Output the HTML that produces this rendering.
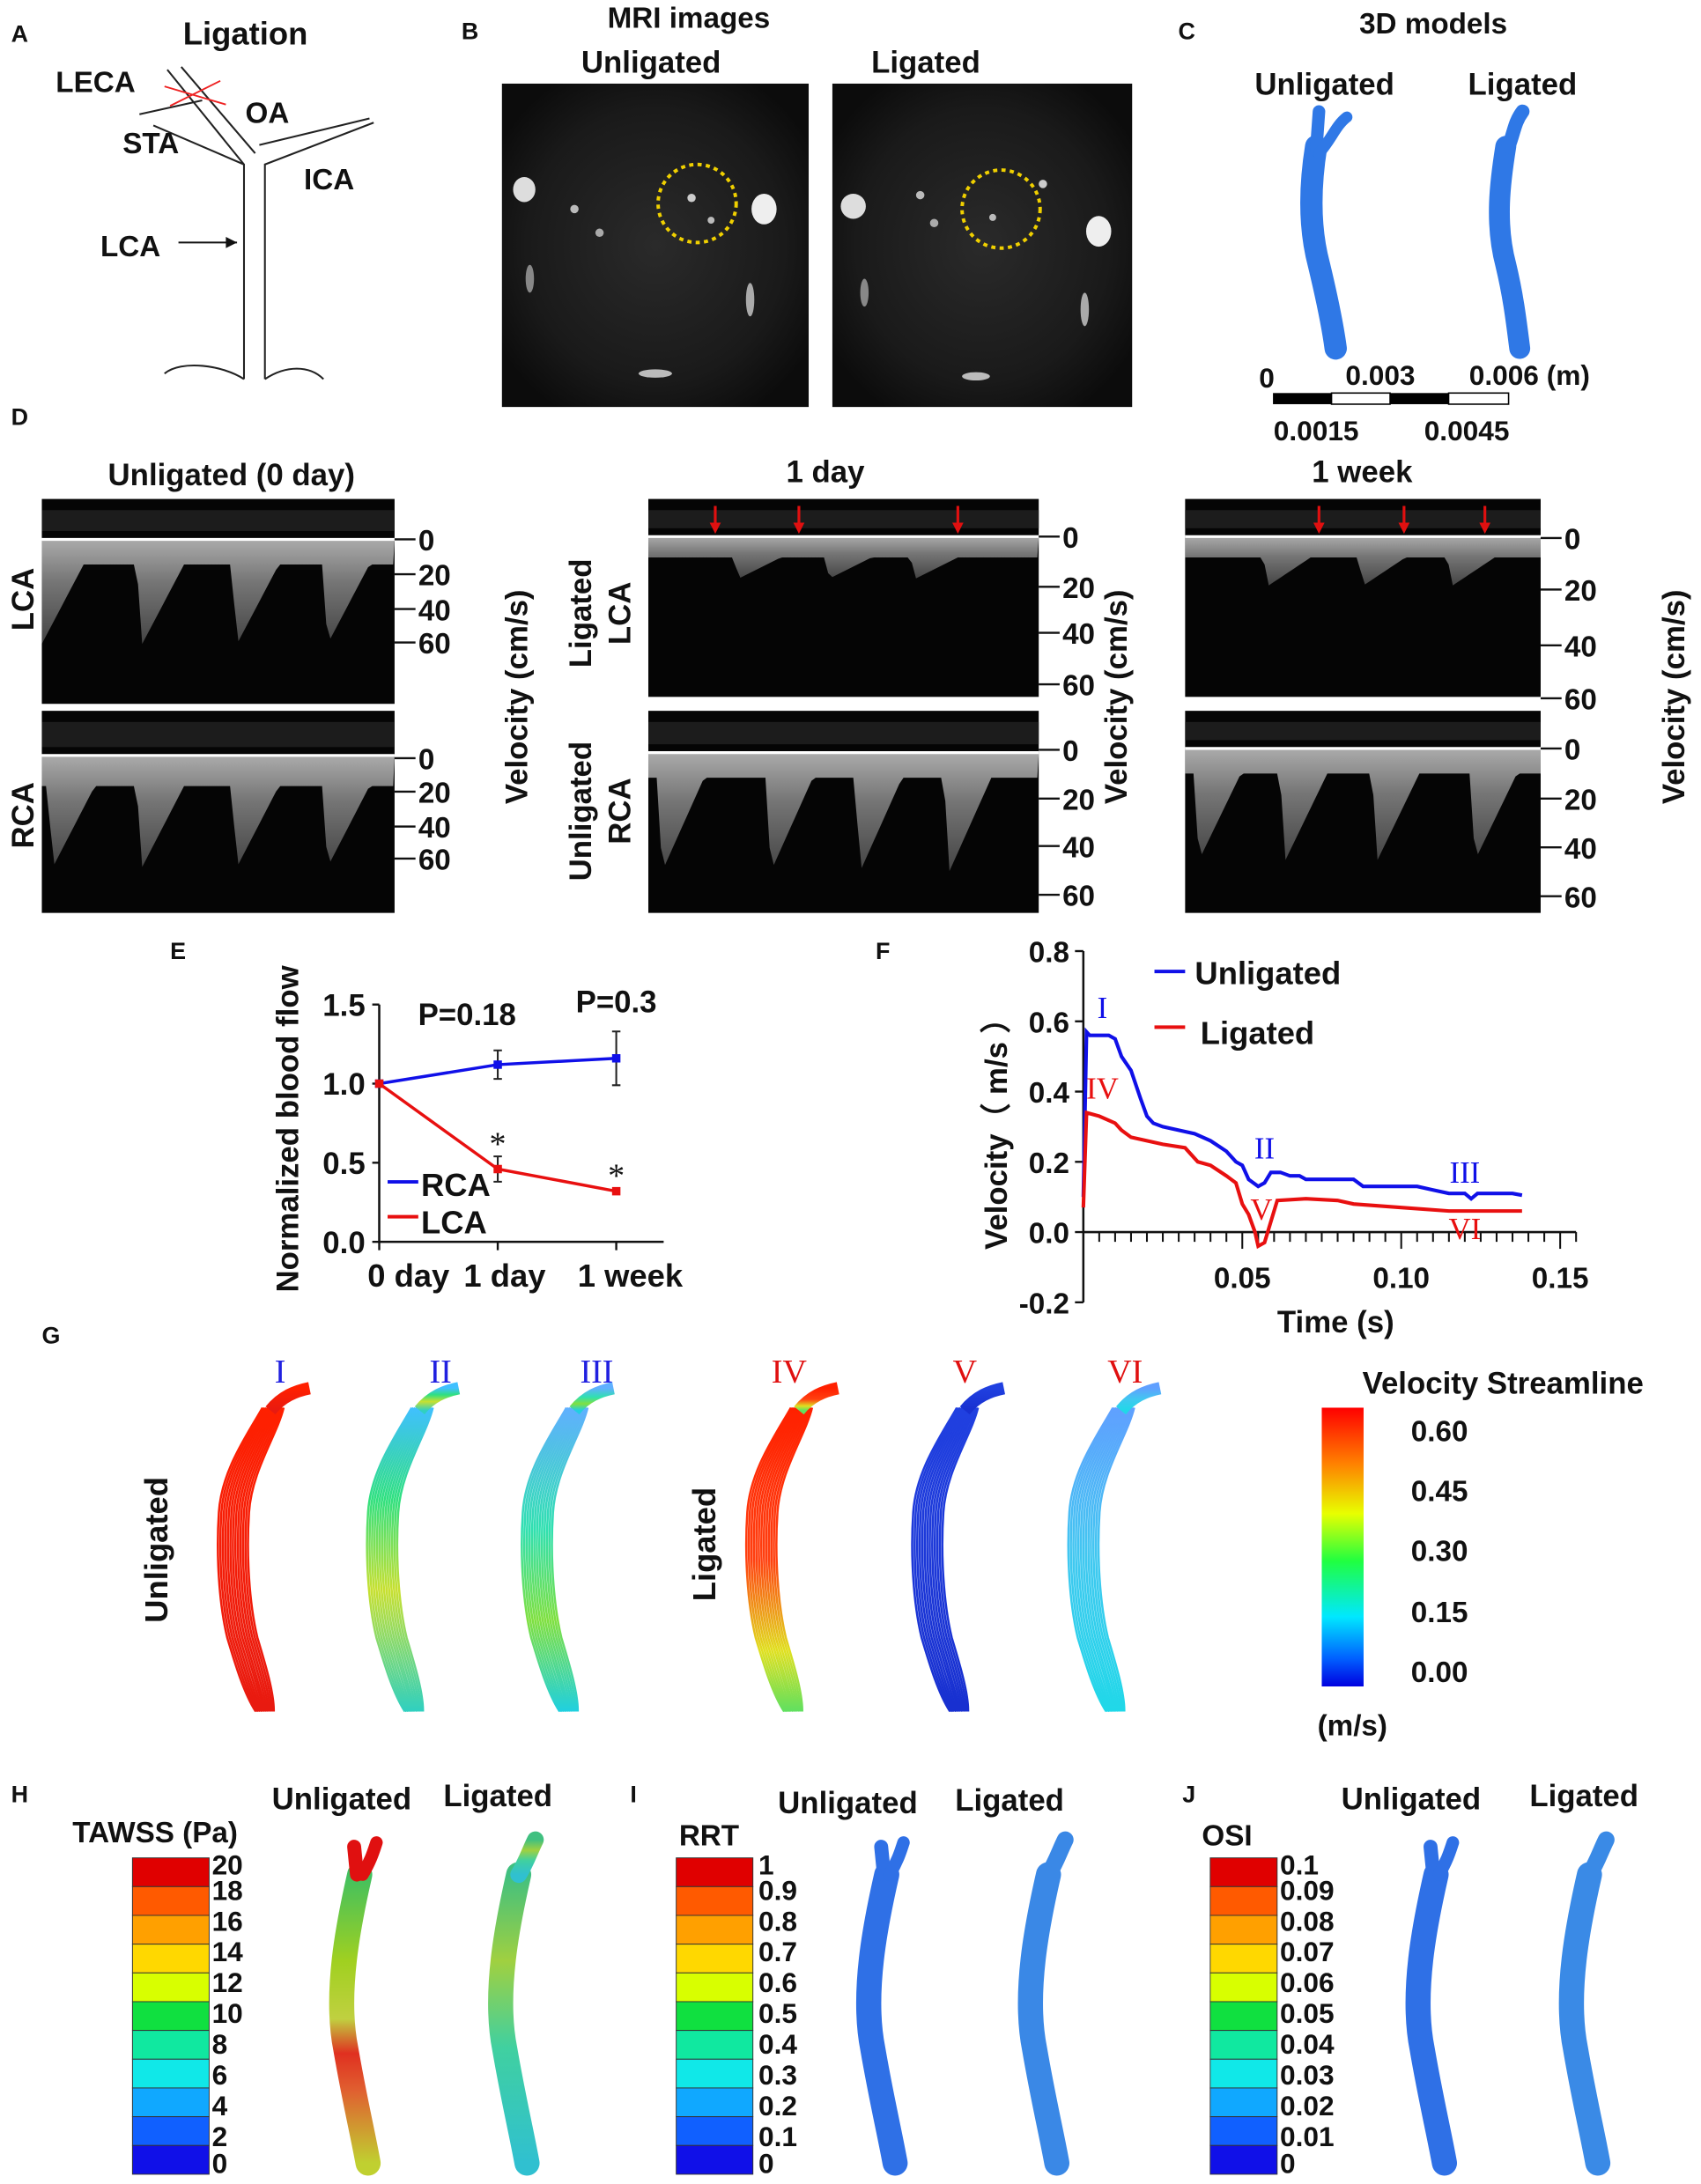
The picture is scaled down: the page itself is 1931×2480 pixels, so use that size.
<!DOCTYPE html>
<html><head><meta charset="utf-8"><title>Figure</title>
<style>
html,body{margin:0;padding:0;background:#fff;}
svg{display:block;}
text{font-family:"Liberation Sans",Arial,sans-serif;font-weight:bold;fill:#111;}
.rn{font-family:"Liberation Serif",serif;font-weight:normal;}
</style></head>
<body>
<svg id="fig" width="1931" height="2480" viewBox="0 0 1220 1567" preserveAspectRatio="none" xmlns="http://www.w3.org/2000/svg">
<defs>
<radialGradient id="mriG" cx="50%" cy="50%" r="60%"><stop offset="0" stop-color="#2a2a2a"/><stop offset="0.7" stop-color="#1a1a1a"/><stop offset="1" stop-color="#0c0c0c"/></radialGradient>
<linearGradient id="gI" x1="0" y1="0" x2="0" y2="1"><stop offset="0" stop-color="#ff2000"/><stop offset="1" stop-color="#e81a10"/></linearGradient>
<linearGradient id="gII" x1="0" y1="0" x2="0" y2="1"><stop offset="0" stop-color="#40c0ff"/><stop offset="0.3" stop-color="#30e080"/><stop offset="0.6" stop-color="#c8e030"/><stop offset="1" stop-color="#30d0c0"/></linearGradient>
<linearGradient id="gIII" x1="0" y1="0" x2="0" y2="1"><stop offset="0" stop-color="#60b0ff"/><stop offset="0.4" stop-color="#30e0b0"/><stop offset="0.7" stop-color="#80e040"/><stop offset="1" stop-color="#20d0e0"/></linearGradient>
<linearGradient id="gIV" x1="0" y1="0" x2="0" y2="1"><stop offset="0" stop-color="#ff2000"/><stop offset="0.5" stop-color="#ff4010"/><stop offset="0.8" stop-color="#e0e020"/><stop offset="1" stop-color="#60e060"/></linearGradient>
<linearGradient id="gV" x1="0" y1="0" x2="0" y2="1"><stop offset="0" stop-color="#2040e0"/><stop offset="1" stop-color="#1830d0"/></linearGradient>
<linearGradient id="gVI" x1="0" y1="0" x2="0" y2="1"><stop offset="0" stop-color="#60a0ff"/><stop offset="0.5" stop-color="#40c8f0"/><stop offset="1" stop-color="#20d8e8"/></linearGradient>
<linearGradient id="jet" x1="0" y1="0" x2="0" y2="1"><stop offset="0" stop-color="#ff0000"/><stop offset="0.2" stop-color="#ff8000"/><stop offset="0.38" stop-color="#e8ff00"/><stop offset="0.55" stop-color="#20ff40"/><stop offset="0.75" stop-color="#00e8ff"/><stop offset="0.9" stop-color="#0060ff"/><stop offset="1" stop-color="#0000e0"/></linearGradient>
<linearGradient id="tawU" x1="0" y1="0" x2="0" y2="1"><stop offset="0" stop-color="#40c060"/><stop offset="0.3" stop-color="#a0d020"/><stop offset="0.5" stop-color="#c0d040"/><stop offset="0.62" stop-color="#e03020"/><stop offset="0.75" stop-color="#e06030"/><stop offset="1" stop-color="#c0d030"/></linearGradient>
<linearGradient id="tawL" x1="0" y1="0" x2="0" y2="1"><stop offset="0" stop-color="#40c080"/><stop offset="0.3" stop-color="#a0d040"/><stop offset="0.6" stop-color="#40d0a0"/><stop offset="1" stop-color="#30c0d0"/></linearGradient>
<linearGradient id="envG" x1="0" y1="0" x2="0" y2="1"><stop offset="0" stop-color="#c8c8c8"/><stop offset="0.4" stop-color="#8a8a8a"/><stop offset="1" stop-color="#505050"/></linearGradient>
</defs>

<!-- Panel A -->
<g>
<text x="8" y="30" font-size="17">A</text>
<text x="176" y="32" font-size="23" text-anchor="middle">Ligation</text>
<g fill="none" stroke="#222" stroke-width="1.3">
<path d="M175,272 L175,118 L120,50"/><path d="M190,272 L190,118 L268,88"/><path d="M175,118 L110,90"/><path d="M130,48 L183,110"/>
<path d="M186,104 L265,85"/><path d="M175,272 C160,262 130,258 118,268"/><path d="M190,272 C205,262 222,262 232,272"/>
<path d="M145,72 L100,82"/>
</g>
<path d="M118,62 L162,75 M122,76 L158,58" stroke="#e22" stroke-width="1.2"/>
<text x="40" y="66" font-size="21">LECA</text>
<text x="88" y="110" font-size="21">STA</text>
<text x="176" y="88" font-size="21">OA</text>
<text x="218" y="136" font-size="21">ICA</text>
<text x="72" y="184" font-size="21">LCA</text>
<path d="M128,174 L170,174" stroke="#111" stroke-width="1.3"/><path d="M170,174 l-8,-4 l0,8 z" fill="#111"/>
</g>

<!-- Panel B -->
<g>
<text x="331" y="28" font-size="17">B</text>
<text x="494" y="20" font-size="21" text-anchor="middle">MRI images</text>
<text x="467" y="52" font-size="22" text-anchor="middle">Unligated</text>
<text x="664" y="52" font-size="22" text-anchor="middle">Ligated</text>
<g>
<rect x="360" y="60" width="220" height="232" fill="url(#mriG)"/>
<ellipse cx="376" cy="136" rx="8" ry="9" fill="#ddd"/><ellipse cx="548" cy="150" rx="9" ry="11" fill="#eee"/>
<circle cx="412" cy="150" r="3" fill="#bbb"/><circle cx="430" cy="167" r="3" fill="#aaa"/><circle cx="496" cy="142" r="3" fill="#ccc"/><circle cx="510" cy="158" r="2.5" fill="#bbb"/>
<ellipse cx="380" cy="200" rx="3" ry="10" fill="#888"/><ellipse cx="538" cy="215" rx="3" ry="12" fill="#aaa"/><ellipse cx="470" cy="268" rx="12" ry="3" fill="#bbb"/>
<circle cx="500" cy="146" r="28" fill="none" stroke="#f0d000" stroke-width="2.5" stroke-dasharray="3,3"/>
</g>
<g>
<rect x="597" y="60" width="215" height="232" fill="url(#mriG)"/>
<ellipse cx="612" cy="148" rx="9" ry="9" fill="#ddd"/><ellipse cx="788" cy="166" rx="9" ry="11" fill="#eee"/>
<circle cx="660" cy="140" r="3" fill="#bbb"/><circle cx="670" cy="160" r="3" fill="#aaa"/><circle cx="712" cy="156" r="2.5" fill="#bbb"/><circle cx="748" cy="132" r="3" fill="#ccc"/>
<ellipse cx="620" cy="210" rx="3" ry="10" fill="#888"/><ellipse cx="778" cy="222" rx="3" ry="12" fill="#aaa"/><ellipse cx="700" cy="270" rx="10" ry="3" fill="#bbb"/>
<circle cx="718" cy="150" r="28" fill="none" stroke="#f0d000" stroke-width="2.5" stroke-dasharray="3,3"/>
</g>
</g>

<!-- Panel C -->
<g>
<text x="845" y="28" font-size="17">C</text>
<text x="1028" y="24" font-size="21" text-anchor="middle">3D models</text>
<text x="950" y="68" font-size="22" text-anchor="middle">Unligated</text>
<text x="1092" y="68" font-size="22" text-anchor="middle">Ligated</text>
<g fill="none" stroke="#2f78e6" stroke-linecap="round">
<path d="M944,105 C940,130 938,160 946,190 C952,215 956,235 958,250" stroke-width="16"/>
<path d="M944,108 L946,80" stroke-width="9"/><path d="M946,110 C955,100 958,90 966,84" stroke-width="8"/>
</g>
<g fill="none" stroke="#2f78e6" stroke-linecap="round">
<path d="M1080,105 C1076,130 1072,160 1080,190 C1086,215 1088,235 1090,250" stroke-width="15"/>
<path d="M1082,105 C1086,95 1086,88 1092,80" stroke-width="10"/>
</g>
<g>
<rect x="913" y="282" width="42" height="8" fill="#000"/><rect x="955" y="282" width="42" height="8" fill="#fff" stroke="#000"/>
<rect x="997" y="282" width="42" height="8" fill="#000"/><rect x="1039" y="282" width="43" height="8" fill="#fff" stroke="#000"/>
<text x="903" y="278" font-size="20">0</text><text x="990" y="276" font-size="20" text-anchor="middle">0.003</text>
<text x="1097" y="276" font-size="20" text-anchor="middle">0.006 (m)</text>
<text x="944" y="316" font-size="20" text-anchor="middle">0.0015</text><text x="1052" y="316" font-size="20" text-anchor="middle">0.0045</text>
</g>
</g>

<!-- Panel D -->
<g id="panelD">
<text x="8" y="305" font-size="17">D</text>
<text x="166" y="348" font-size="22" text-anchor="middle">Unligated (0 day)</text>
<text x="592" y="346" font-size="22" text-anchor="middle">1 day</text>
<text x="977" y="346" font-size="22" text-anchor="middle">1 week</text>
<text transform="translate(24,430) rotate(-90)" font-size="22" text-anchor="middle">LCA</text>
<text transform="translate(24,585) rotate(-90)" font-size="22" text-anchor="middle">RCA</text>
<text transform="translate(424,440) rotate(-90)" font-size="22" text-anchor="middle">Ligated</text>
<text transform="translate(452,440) rotate(-90)" font-size="22" text-anchor="middle">LCA</text>
<text transform="translate(424,582) rotate(-90)" font-size="22" text-anchor="middle">Unligated</text>
<text transform="translate(452,582) rotate(-90)" font-size="22" text-anchor="middle">RCA</text>
<text transform="translate(378,500) rotate(-90)" font-size="22" text-anchor="middle">Velocity (cm/s)</text>
<text transform="translate(808,500) rotate(-90)" font-size="22" text-anchor="middle">Velocity (cm/s)</text>
<text transform="translate(1208,500) rotate(-90)" font-size="22" text-anchor="middle">Velocity (cm/s)</text>
</g>

<!-- Panel E -->
<g id="panelE">
<text x="122" y="688" font-size="17">E</text>
<text transform="translate(214,810) rotate(-90)" font-size="22" text-anchor="middle">Normalized blood flow</text>
</g>

<!-- Panel F -->
<g id="panelF">
<text x="628" y="688" font-size="17">F</text>
<text transform="translate(722,808) rotate(-90)" font-size="22" text-anchor="middle">Velocity（ m/s ）</text>
<text x="958" y="956" font-size="22" text-anchor="middle">Time (s)</text>
</g>

<!-- Panel G -->
<g id="panelG">
<text x="30" y="964" font-size="17">G</text>
<text transform="translate(120,1112) rotate(-90)" font-size="23" text-anchor="middle">Unligated</text>
<text transform="translate(513,1108) rotate(-90)" font-size="23" text-anchor="middle">Ligated</text>
<text x="1078" y="1000" font-size="22" text-anchor="middle">Velocity  Streamline</text>
<rect x="948" y="1010" width="30" height="200" fill="url(#jet)"/>
<text x="1012" y="1034" font-size="21">0.60</text>
<text x="1012" y="1077" font-size="21">0.45</text>
<text x="1012" y="1120" font-size="21">0.30</text>
<text x="1012" y="1164" font-size="21">0.15</text>
<text x="1012" y="1207" font-size="21">0.00</text>
<text x="970" y="1245" font-size="21" text-anchor="middle">(m/s)</text>
</g>

<!-- Panels H I J -->
<g id="panelH">
<text x="8" y="1293" font-size="17">H</text>
<text x="52" y="1322" font-size="21">TAWSS (Pa)</text>
<text x="195" y="1298" font-size="22">Unligated</text>
<text x="318" y="1296" font-size="22">Ligated</text>
</g>
<g id="panelI">
<text x="452" y="1293" font-size="17">I</text>
<text x="487" y="1324" font-size="21">RRT</text>
<text x="558" y="1301" font-size="22">Unligated</text>
<text x="685" y="1299" font-size="22">Ligated</text>
</g>
<g id="panelJ">
<text x="848" y="1293" font-size="17">J</text>
<text x="862" y="1324" font-size="21">OSI</text>
<text x="962" y="1298" font-size="22">Unligated</text>
<text x="1097" y="1296" font-size="22">Ligated</text>
</g>
</svg>

<script>
// ---- Panel E data ----
const eCategories = ["0 day", "1 day", "1 week"];
const eRCA = [1.0, 1.12, 1.16];
const eRCAErr = [0, 0.09, 0.17];
const eLCA = [1.0, 0.46, 0.32];
const eLCAErr = [0, 0.08, 0];
const eYTicks = [0.0, 0.5, 1.0, 1.5];
const ePLabels = ["", "P=0.18", "P=0.3"];

// ---- Panel F data ----
const fTimeU = [0.0,0.001,0.002,0.008,0.010,0.012,0.015,0.018,0.020,0.022,0.025,0.030,0.035,0.040,0.045,0.048,0.050,0.052,0.055,0.057,0.059,0.062,0.065,0.068,0.070,0.075,0.085,0.088,0.100,0.105,0.110,0.115,0.120,0.122,0.124,0.135,0.138];
const fUnligated = [0.10,0.57,0.56,0.56,0.55,0.50,0.46,0.38,0.33,0.31,0.30,0.29,0.28,0.26,0.23,0.20,0.19,0.15,0.13,0.14,0.17,0.17,0.16,0.16,0.15,0.15,0.15,0.13,0.13,0.13,0.12,0.11,0.11,0.095,0.11,0.11,0.105];
const fTimeL = [0.0,0.001,0.005,0.010,0.012,0.015,0.020,0.025,0.032,0.034,0.036,0.040,0.045,0.048,0.049,0.050,0.052,0.054,0.055,0.057,0.059,0.061,0.070,0.080,0.085,0.100,0.115,0.138];
const fLigated = [0.07,0.34,0.33,0.31,0.29,0.27,0.26,0.25,0.24,0.22,0.20,0.19,0.16,0.14,0.11,0.08,0.05,0.00,-0.04,-0.03,0.03,0.09,0.095,0.09,0.08,0.07,0.06,0.06];
const fYTicks = [-0.2, 0.0, 0.2, 0.4, 0.6, 0.8];
const fXTicks = [0.05, 0.10, 0.15];

const NS = "http://www.w3.org/2000/svg";
function mk(parent, tag, attrs, txt) {
  const el = document.createElementNS(NS, tag);
  for (const k in attrs) el.setAttribute(k, attrs[k]);
  if (txt !== undefined) el.textContent = txt;
  parent.appendChild(el);
  return el;
}

// ===== Panel E =====
(function(){
  const g = document.getElementById('panelE');
  const x0 = 272, xStep = 85, yBase = 891, yPer = 113.5;
  const xE = i => x0 + i * xStep;
  const yE = v => yBase - v * yPer;
  const labelShift = [21, 5, 10];
  let ax = mk(g, 'path', {d:`M${x0},${yE(1.5)} L${x0},${yBase} L${x0+170+34},${yBase}`, fill:'none', stroke:'#111', 'stroke-width':1.6});
  
  
  eYTicks.forEach(v => {
    mk(g, 'line', {x1:x0-5, x2:x0, y1:yE(v), y2:yE(v), stroke:'#111', 'stroke-width':1.5});
    let t = mk(g, 'text', {x:x0-10, y:yE(v)+8, 'font-size':22, 'text-anchor':'end'}, v.toFixed(1));
    
    
  });
  eCategories.forEach((c, i) => {
    mk(g, 'line', {x1:xE(i), x2:xE(i), y1:yBase, y2:yBase+6, stroke:'#111', 'stroke-width':1.5});
    let t = mk(g, 'text', {x:xE(i)+labelShift[i], y:yBase+32, 'font-size':23, 'text-anchor':'middle'}, c);
    
    
  });
  function series(vals, errs, color, name) {
    let l = mk(g, 'polyline', {points: vals.map((v,i)=>`${xE(i)},${yE(v)}`).join(' '), fill:'none', stroke:color, 'stroke-width':2.2});
    
    
    vals.forEach((v,i) => {
      if (errs[i] > 0) {
        mk(g, 'path', {d:`M${xE(i)},${yE(v-errs[i])} L${xE(i)},${yE(v+errs[i])} M${xE(i)-3},${yE(v-errs[i])} h6 M${xE(i)-3},${yE(v+errs[i])} h6`, stroke:'#222', 'stroke-width':1.3, fill:'none'});
      }
      let p = mk(g, 'rect', {x:xE(i)-3, y:yE(v)-3, width:6, height:6, fill:color});
      
      
    });
  }
  series(eRCA, eRCAErr, '#1010e8', 'rca');
  series(eLCA, eLCAErr, '#e81010', 'lca');
  ePLabels.forEach((s,i) => {
    if (!s) return;
    let t = mk(g, 'text', {x:xE(i)+(i===1?-22:0), y:(i===1?yE(1.37):yE(1.45)), 'font-size':22, 'text-anchor':'middle'}, s);
    
    
  });
  [[1, eLCA[1]+eLCAErr[1]+0.08], [2, eLCA[2]+0.1]].forEach(([i,v]) => {
    let t = mk(g, 'text', {x:xE(i), y:yE(v)+8, 'font-size':24, 'text-anchor':'middle', style:'font-weight:normal;font-family:"Liberation Serif",serif'}, '*');
    
    
  });
  mk(g, 'line', {x1:278, x2:300, y1:848, y2:848, stroke:'#1010e8', 'stroke-width':2.5});
  let lt1 = mk(g, 'text', {x:302, y:858, 'font-size':23}, 'RCA');
  
  
  mk(g, 'line', {x1:278, x2:300, y1:873, y2:873, stroke:'#e81010', 'stroke-width':2.5});
  let lt2 = mk(g, 'text', {x:302, y:885, 'font-size':23}, 'LCA');
  
  
})();

// ===== Panel F =====
(function(){
  const g = document.getElementById('panelF');
  const x0 = 777, xPer = 2280, y0 = 884, yPer = 252;
  const xF = t => x0 + t * xPer;
  const yF = v => y0 - v * yPer;
  let ax = mk(g, 'path', {d:`M${x0},${yF(0.8)} L${x0},${yF(-0.2)} M${x0},${y0} L${xF(0.155)},${y0}`, fill:'none', stroke:'#111', 'stroke-width':1.6});
  
  
  fYTicks.forEach(v => {
    mk(g, 'line', {x1:x0-6, x2:x0, y1:yF(v), y2:yF(v), stroke:'#111', 'stroke-width':1.5});
    let t = mk(g, 'text', {x:x0-10, y:yF(v)+8, 'font-size':21, 'text-anchor':'end'}, v.toFixed(1));
    
    
  });
  for (let k = 1; k <= 31; k++) {
    const t = k * 0.005;
    const major = k % 10 === 0;
    mk(g, 'line', {x1:xF(t), x2:xF(t), y1:y0, y2:y0+(major?12:7), stroke:'#111', 'stroke-width':1.3});
  }
  fXTicks.forEach(v => {
    let t = mk(g, 'text', {x:xF(v), y:y0+40, 'font-size':21, 'text-anchor':'middle'}, v.toFixed(2));
    
    
  });
  let u = mk(g, 'polyline', {points: fTimeU.map((t,i)=>`${xF(t)},${yF(fUnligated[i])}`).join(' '), fill:'none', stroke:'#1010e8', 'stroke-width':2.6});
  
  
  let l = mk(g, 'polyline', {points: fTimeL.map((t,i)=>`${xF(t)},${yF(fLigated[i])}`).join(' '), fill:'none', stroke:'#e81010', 'stroke-width':2.6});
  
  
  const rn = [['I',0.006,0.61,'#1010e8'],['II',0.057,0.21,'#1010e8'],['III',0.120,0.14,'#1010e8'],['IV',0.006,0.38,'#e81010'],['V',0.056,0.035,'#e81010'],['VI',0.120,-0.02,'#e81010']];
  rn.forEach(([s,t,v,c]) => {
    let e = mk(g, 'text', {x:xF(t), y:yF(v), 'font-size':22, 'text-anchor':'middle', class:'rn', style:`fill:${c}`}, s);
    
    
  });
  mk(g, 'line', {x1:828, x2:850, y1:697, y2:697, stroke:'#1010e8', 'stroke-width':2.5});
  let a = mk(g, 'text', {x:857, y:706, 'font-size':23}, 'Unligated');
  
  
  mk(g, 'line', {x1:828, x2:850, y1:737, y2:737, stroke:'#e81010', 'stroke-width':2.5});
  let b = mk(g, 'text', {x:861, y:749, 'font-size':23}, 'Ligated');
  
  
})();

// ===== Panel D doppler images =====
(function(){
  const g = document.getElementById('panelD');
  const panels = [
    {x:30,y:358,w:253,h:147,z:387,ticks:[387,412,437,461],tx:300,beats:[0,72,140,205],depth:[18,75],arrows:false},
    {x:30,y:510,w:253,h:145,z:542,ticks:[544,568,593,616],tx:300,beats:[8,72,140,205],depth:[22,80],arrows:false},
    {x:465,y:358,w:280,h:142,z:385,ticks:[385,421,454,491],tx:762,beats:[65,130,192],depth:[15,30],arrows:[48,108,222]},
    {x:465,y:510,w:280,h:145,z:540,ticks:[538,573,607,642],tx:762,beats:[10,88,152,216],depth:[18,85],arrows:false},
    {x:850,y:358,w:255,h:142,z:385,ticks:[386,423,463,501],tx:1122,beats:[60,128,192],depth:[15,35],arrows:[96,157,215]},
    {x:850,y:510,w:255,h:145,z:537,ticks:[537,573,608,643],tx:1122,beats:[10,72,138,208],depth:[18,80],arrows:false}
  ];
  const labels = ['0','20','40','60'];
  panels.forEach((p, pi) => {
    let r = mk(g, 'rect', {x:p.x, y:p.y, width:p.w, height:p.h, fill:'#050505'});
    
    
    mk(g, 'rect', {x:p.x, y:p.y+8, width:p.w, height:p.z-p.y-14, fill:'#1c1c1c'});
    let pts = [`${p.x},${p.z}`];
    for (let xx = 0; xx <= p.w; xx += 3) {
      let d = p.depth[0];
      p.beats.forEach(b => {
        const dx = xx - b;
        if (dx >= -4 && dx < 30) d = Math.max(d, p.depth[0] + (p.depth[1]-p.depth[0]) * (dx < 0 ? (dx+4)/4 : Math.max(0, 1 - dx/30)));
      });
      pts.push(`${p.x+xx},${p.z+d}`);
    }
    pts.push(`${p.x+p.w},${p.z}`);
    mk(g, 'polygon', {points: pts.join(' '), fill:'url(#envG)', opacity:0.85});
    mk(g, 'line', {x1:p.x, x2:p.x+p.w, y1:p.z, y2:p.z, stroke:'#fff', 'stroke-width':2});
    p.ticks.forEach((ty, i) => {
      mk(g, 'line', {x1:p.x+p.w, x2:p.tx-2, y1:ty, y2:ty, stroke:'#111', 'stroke-width':1.5});
      let t = mk(g, 'text', {x:p.tx, y:ty+8, 'font-size':21}, labels[i]);
      
      
    });
    if (p.arrows) p.arrows.forEach(ax => {
      mk(g, 'line', {x1:p.x+ax, x2:p.x+ax, y1:p.y+5, y2:p.z-8, stroke:'#e01010', 'stroke-width':2});
      mk(g, 'path', {d:`M${p.x+ax-4},${p.z-10} L${p.x+ax+4},${p.z-10} L${p.x+ax},${p.z-2} Z`, fill:'#e01010'});
    });
  });
})();

// ===== Panel G streamline vessels =====
(function(){
  const g = document.getElementById('panelG');
  const vs = [['I',201,0,'gI','#2020e0'],['II',316,107,'gII','#2020e0'],['III',428,218,'gIII','#2020e0'],['IV',566,379,'gIV','#e01010'],['V',692,498,'gV','#e01010'],['VI',807,610,'gVI','#e01010']];
  vs.forEach(([s,nx,ox,grad,col]) => {
    let t = mk(g, 'text', {x:nx, y:992, 'font-size':24, 'text-anchor':'middle', class:'rn', style:`fill:${col}`}, s);
    
    
    let vg = mk(g, 'g', {fill:'none', 'stroke-width':1.6});
    
    
    for (let k = -11; k <= 11; k += 1.8) {
      mk(vg, 'path', {d:`M${ox+196+k*0.7},1010 C${ox+188+k},1030 ${ox+170+k},1055 ${ox+168+k},1085 C${ox+166+k},1115 ${ox+168+k},1150 ${ox+174+k},1175 C${ox+180+k},1195 ${ox+186+k},1215 ${ox+190+k*0.6},1228`, stroke:`url(#${grad})`});
    }
    mk(vg, 'path', {d:`M${ox+194},1012 C${ox+202},1002 ${ox+212},998 ${ox+222},996`, 'stroke-width':9, stroke:`url(#${grad})`});
  });
})();

// ===== Panels H/I/J colorbars & vessels =====
(function(){
  const colors = ['#e00000','#ff5a00','#ffa000','#ffd800','#d8ff00','#80ff10','#10e040','#10e8a0','#10e8e8','#10a8ff','#1060ff','#1010e8'];
  function bar(gid, x, w, labels, lx, name) {
    const g = document.getElementById(gid);
    const y0 = 1333, h = 227, n = labels.length;
    const bh = h / n;
    for (let i = 0; i < n; i++) {
      const ci = Math.round(i * (colors.length-1) / (n-1));
      mk(g, 'rect', {x:x, y:y0+i*bh, width:w, height:bh, fill:colors[ci], stroke:'#333', 'stroke-width':0.6});
    }
    labels.forEach((s,i) => {
      let t = mk(g, 'text', {x:lx, y:y0+8+i*(h-6)/(n-1)+(i===n-1?-3:0)+ (i===0?4:0), 'font-size':20}, s);
      
      
    });
  }
  bar('panelH', 95, 55, ['20','18','16','14','12','10','8','6','4','2','0'], 152, 'tawss');
  bar('panelI', 485, 55, ['1','0.9','0.8','0.7','0.6','0.5','0.4','0.3','0.2','0.1','0'], 544, 'rrt');
  bar('panelJ', 868, 48, ['0.1','0.09','0.08','0.07','0.06','0.05','0.04','0.03','0.02','0.01','0'], 918, 'osi');
  function vessel(gid, x, stroke, bifurc, name) {
    const g = document.getElementById(gid);
    let vg = mk(g, 'g', {fill:'none', 'stroke-linecap':'round'});
    
    
    mk(vg, 'path', {d:`M${x},1345 C${x-8},1380 ${x-18},1430 ${x-10},1470 C${x-4},1505 ${x+2},1530 ${x+6},1552`, stroke:stroke, 'stroke-width':18});
    if (bifurc) {
      mk(vg, 'path', {d:`M${x-2},1345 L${x-4},1325`, stroke:bifurc, 'stroke-width':10});
      mk(vg, 'path', {d:`M${x+2},1345 C${x+8},1335 ${x+10},1328 ${x+12},1322`, stroke:bifurc, 'stroke-width':9});
    } else {
      mk(vg, 'path', {d:`M${x},1345 C${x+6},1335 ${x+8},1328 ${x+12},1320`, stroke:stroke, 'stroke-width':12});
    }
  }
  vessel('panelH', 258, 'url(#tawU)', '#e01010', 'tawss-unligated-vessel');
  vessel('panelH', 372, 'url(#tawL)', null, 'tawss-ligated-vessel');
  vessel('panelI', 636, '#2f70e6', '#2f70e6', 'rrt-unligated-vessel');
  vessel('panelI', 752, '#3a88e6', null, 'rrt-ligated-vessel');
  vessel('panelJ', 1030, '#2f70e6', '#2f70e6', 'osi-unligated-vessel');
  vessel('panelJ', 1140, '#3a8ae6', null, 'osi-ligated-vessel');
})();
</script>
</body></html>
